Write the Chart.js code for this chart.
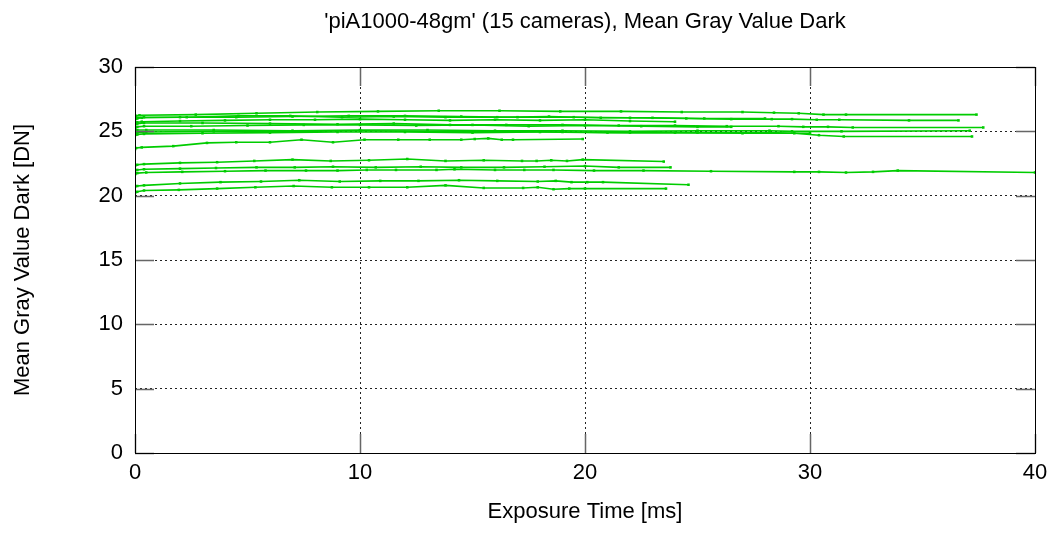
<!DOCTYPE html>
<html>
<head>
<meta charset="utf-8">
<script src="https://cdn.jsdelivr.net/npm/chart.js@4/dist/chart.umd.min.js"></script>
<style>
  html, body { margin: 0; padding: 0; background: #fff; }
  #wrap { width: 1057px; height: 558px; }
</style>
</head>
<body>
<div id="wrap"><canvas id="chartDark"></canvas></div>
<script>
// Exposure time [ms] and mean gray value dark [DN] per camera
const expCam01 = [0, 0.05, 0.2, 2.7, 5.4, 8.1, 10.8, 13.5, 16.2, 18.9, 21.6, 24.3, 27.0, 28.4, 29.5, 30.6, 31.6, 37.4];
const darkCam01 = [26.2, 26.2, 26.25, 26.3, 26.4, 26.5, 26.55, 26.6, 26.6, 26.55, 26.55, 26.5, 26.5, 26.45, 26.4, 26.3, 26.3, 26.3];

const expCam02 = [0, 0.1, 0.3, 2.0, 4.5, 7.0, 9.5, 12.0, 14.5, 17.0, 19.5, 22.0, 24.5, 26.5, 28.3, 29.2, 30.3, 31.3, 34.4, 36.6];
const darkCam02 = [25.9, 26.0, 26.05, 26.1, 26.1, 26.15, 26.2, 26.2, 26.15, 26.1, 26.1, 26.05, 26.0, 25.95, 25.95, 25.95, 25.9, 25.9, 25.85, 25.85];

const expCam03 = [0, 0.1, 0.4, 3.0, 6.0, 9.0, 11.5, 14.0, 16.5, 19.0, 21.5, 24.0, 26.3, 28.6, 29.7, 30.8, 31.9, 37.7];
const darkCam03 = [25.5, 25.6, 25.65, 25.65, 25.6, 25.55, 25.6, 25.5, 25.5, 25.5, 25.45, 25.45, 25.4, 25.4, 25.35, 25.35, 25.3, 25.3];

const expCam04 = [0, 0.1, 0.5, 3.5, 7.0, 10.0, 13.0, 16.0, 19.0, 22.0, 25.0, 28.2, 29.2, 31.4, 37.1];
const darkCam04 = [25.2, 25.1, 25.1, 25.1, 25.05, 25.1, 25.1, 25.05, 25.05, 25.0, 25.05, 25.05, 25.0, 25.0, 25.05];

const expCam05 = [0, 0.1, 0.5, 3.5, 7.0, 10.0, 13.0, 16.0, 19.0, 22.0, 25.0, 28.2, 29.3, 30.4, 31.5, 37.2];
const darkCam05 = [24.8, 24.9, 24.95, 25.0, 25.0, 25.05, 25.0, 25.0, 24.95, 24.9, 24.9, 24.9, 24.85, 24.7, 24.6, 24.6];

const expCam06 = [0, 0.05, 0.3, 1.7, 3.2, 4.5, 6.0, 7.4, 8.8, 10.2, 11.7, 13.1, 14.5, 15.1, 15.7, 16.3, 16.8, 19.9];
const darkCam06 = [23.6, 23.7, 23.75, 23.85, 24.1, 24.15, 24.15, 24.35, 24.15, 24.35, 24.35, 24.35, 24.35, 24.4, 24.45, 24.35, 24.35, 24.4];

const expCam07 = [0, 0.1, 0.4, 2.3, 4.6, 6.9, 9.2, 11.5, 13.8, 16.1, 18.4, 20.7, 23.0, 25.3, 28.0];
const darkCam07 = [26.0, 26.05, 26.1, 26.1, 26.2, 26.2, 26.1, 26.15, 26.1, 26.1, 26.15, 26.05, 26.05, 26.0, 26.0];

const expCam08 = [0, 0.1, 0.3, 2.0, 4.0, 6.0, 8.0, 10.0, 12.0, 14.0, 16.0, 18.0, 20.0, 22.0, 24.0];
const darkCam08 = [25.6, 25.7, 25.75, 25.8, 25.85, 25.9, 25.9, 25.95, 25.9, 25.85, 25.9, 25.85, 25.9, 25.8, 25.75];

const expCam09 = [0, 0.1, 0.4, 2.5, 5.0, 7.5, 10.0, 12.5, 15.0, 17.5, 20.0, 22.5, 25.0, 26.5];
const darkCam09 = [25.3, 25.35, 25.4, 25.4, 25.45, 25.5, 25.5, 25.45, 25.5, 25.4, 25.45, 25.4, 25.35, 25.35];

const expCam10 = [0, 0.1, 0.4, 3.0, 6.0, 9.0, 12.0, 15.0, 18.0, 21.0, 24.0, 27.0, 30.0];
const darkCam10 = [24.7, 24.75, 24.8, 24.85, 24.9, 24.95, 24.95, 24.9, 24.95, 24.9, 24.9, 24.85, 24.85];

const expCam11 = [0, 0.1, 0.4, 2.0, 3.65, 5.3, 7.0, 8.7, 10.4, 12.1, 13.8, 15.5, 17.2, 17.85, 18.5, 19.2, 19.9, 23.5];
const darkCam11 = [22.3, 22.4, 22.45, 22.55, 22.6, 22.7, 22.8, 22.7, 22.75, 22.85, 22.7, 22.75, 22.7, 22.7, 22.75, 22.7, 22.8, 22.65];

const expCam12 = [0, 0.1, 0.4, 2.0, 3.6, 5.4, 7.1, 8.8, 10.7, 12.7, 14.5, 16.4, 18.2, 20.0, 21.5, 23.8];
const darkCam12 = [21.95, 22.0, 22.05, 22.1, 22.15, 22.2, 22.2, 22.25, 22.2, 22.25, 22.2, 22.2, 22.25, 22.3, 22.2, 22.2];

const expCam13 = [0, 0.1, 0.5, 2.1, 4.0, 5.8, 7.6, 9.0, 10.3, 11.6, 13.4, 14.2, 16.0, 17.3, 18.6, 20.4, 22.6, 25.6, 29.3, 30.4, 31.6, 32.8, 33.9, 40];
const darkCam13 = [21.65, 21.75, 21.8, 21.85, 21.9, 21.95, 21.95, 21.95, 22.0, 22.0, 22.0, 22.05, 22.0, 22.0, 22.0, 21.95, 21.95, 21.9, 21.85, 21.85, 21.8, 21.85, 21.95, 21.8];

const expCam14 = [0, 0.1, 0.4, 2.0, 3.8, 5.6, 7.3, 9.1, 10.9, 12.6, 14.4, 16.1, 17.9, 18.7, 19.4, 20.1, 20.8, 24.6];
const darkCam14 = [20.7, 20.75, 20.8, 20.95, 21.05, 21.1, 21.2, 21.1, 21.15, 21.15, 21.2, 21.15, 21.1, 21.15, 21.05, 21.05, 21.05, 20.85];

const expCam15 = [0, 0.1, 0.4, 1.95, 3.65, 5.35, 7.05, 8.75, 10.4, 12.1, 13.8, 15.5, 17.25, 17.9, 18.6, 19.3, 20.0, 23.6];
const darkCam15 = [20.2, 20.3, 20.4, 20.45, 20.55, 20.65, 20.75, 20.65, 20.65, 20.65, 20.8, 20.6, 20.6, 20.65, 20.5, 20.55, 20.55, 20.55];

const cameras = [
    [expCam01, darkCam01], [expCam02, darkCam02], [expCam03, darkCam03],
    [expCam04, darkCam04], [expCam05, darkCam05], [expCam06, darkCam06],
    [expCam07, darkCam07], [expCam08, darkCam08], [expCam09, darkCam09],
    [expCam10, darkCam10], [expCam11, darkCam11], [expCam12, darkCam12],
    [expCam13, darkCam13], [expCam14, darkCam14], [expCam15, darkCam15]
];

const lineColor = 'rgb(0, 204, 0)';
const fontFamily = "'Liberation Sans', Arial, sans-serif";
const fontSize = 22;

// Frame + inner ticks like gnuplot
const framePlugin = {
    id: 'frame',
    afterDatasetsDraw(chart) {
        const { ctx, chartArea: a, scales } = chart;
        const len = 19;
        ctx.save();
        ctx.strokeStyle = '#666';
        ctx.lineWidth = 1.5;
        ctx.beginPath();
        scales.y.ticks.forEach(t => {
            const py = Math.round(scales.y.getPixelForValue(t.value)) + 0.5;
            ctx.moveTo(a.left, py); ctx.lineTo(a.left + len, py);
            ctx.moveTo(a.right, py); ctx.lineTo(a.right - len, py);
        });
        scales.x.ticks.forEach(t => {
            const px = Math.round(scales.x.getPixelForValue(t.value)) + 0.5;
            ctx.moveTo(px, a.bottom); ctx.lineTo(px, a.bottom - len);
            ctx.moveTo(px, a.top); ctx.lineTo(px, a.top + len);
        });
        ctx.stroke();
        ctx.strokeStyle = '#000';
        ctx.lineWidth = 1;
        ctx.strokeRect(Math.round(a.left) + 0.5, Math.round(a.top) + 0.5,
            Math.round(a.right - a.left), Math.round(a.bottom - a.top));
        ctx.restore();
    }
};

const ctx = document.getElementById('chartDark').getContext('2d');
new Chart(ctx, {
    type: 'line',
    data: {
        datasets: cameras.map(([xs, ys], i) => ({
            label: 'cam ' + (i + 1),
            data: xs.map((x, k) => ({ x: x, y: ys[k] })),
            borderColor: lineColor,
            backgroundColor: lineColor,
            borderWidth: 1.6,
            pointStyle: 'rect',
            pointRadius: 1.8,
            pointBorderWidth: 0,
            fill: false,
            tension: 0
        }))
    },
    options: {
        responsive: true,
        maintainAspectRatio: false,
        animation: false,
        layout: { padding: { left: 0, right: 22, top: 0, bottom: 0 } },
        plugins: {
            legend: { display: false },
            tooltip: { enabled: false },
            title: {
                display: true,
                fullSize: false,
                text: "'piA1000-48gm' (15 cameras), Mean Gray Value Dark",
                color: '#000',
                font: { family: fontFamily, size: fontSize, weight: 'normal', lineHeight: 1.2 },
                padding: { top: 8.8, bottom: 31.8 }
            }
        },
        scales: {
            x: {
                type: 'linear',
                min: 0,
                max: 40,
                afterFit: s => { s.height = 105; },
                ticks: { stepSize: 10, color: '#000', padding: 7, font: { family: fontFamily, size: fontSize } },
                grid: { color: '#222', drawTicks: false, lineWidth: 1 },
                border: { display: false, dash: [2, 3] },
                title: {
                    display: true,
                    text: 'Exposure Time [ms]',
                    color: '#000',
                    font: { family: fontFamily, size: fontSize, lineHeight: 1.2 },
                    padding: { top: 0, bottom: 32.8 }
                }
            },
            y: {
                min: 0,
                max: 30,
                afterFit: s => { s.width = 135; },
                ticks: { stepSize: 5, color: '#000', padding: 12, font: { family: fontFamily, size: fontSize } },
                grid: { color: '#222', drawTicks: false, lineWidth: 1 },
                border: { display: false, dash: [2, 3] },
                title: {
                    display: true,
                    text: 'Mean Gray Value Dark [DN]',
                    color: '#000',
                    font: { family: fontFamily, size: fontSize, lineHeight: 1.2 },
                    padding: { top: 9.8, bottom: 0 }
                }
            }
        }
    },
    plugins: [framePlugin]
});
</script>
</body>
</html>
